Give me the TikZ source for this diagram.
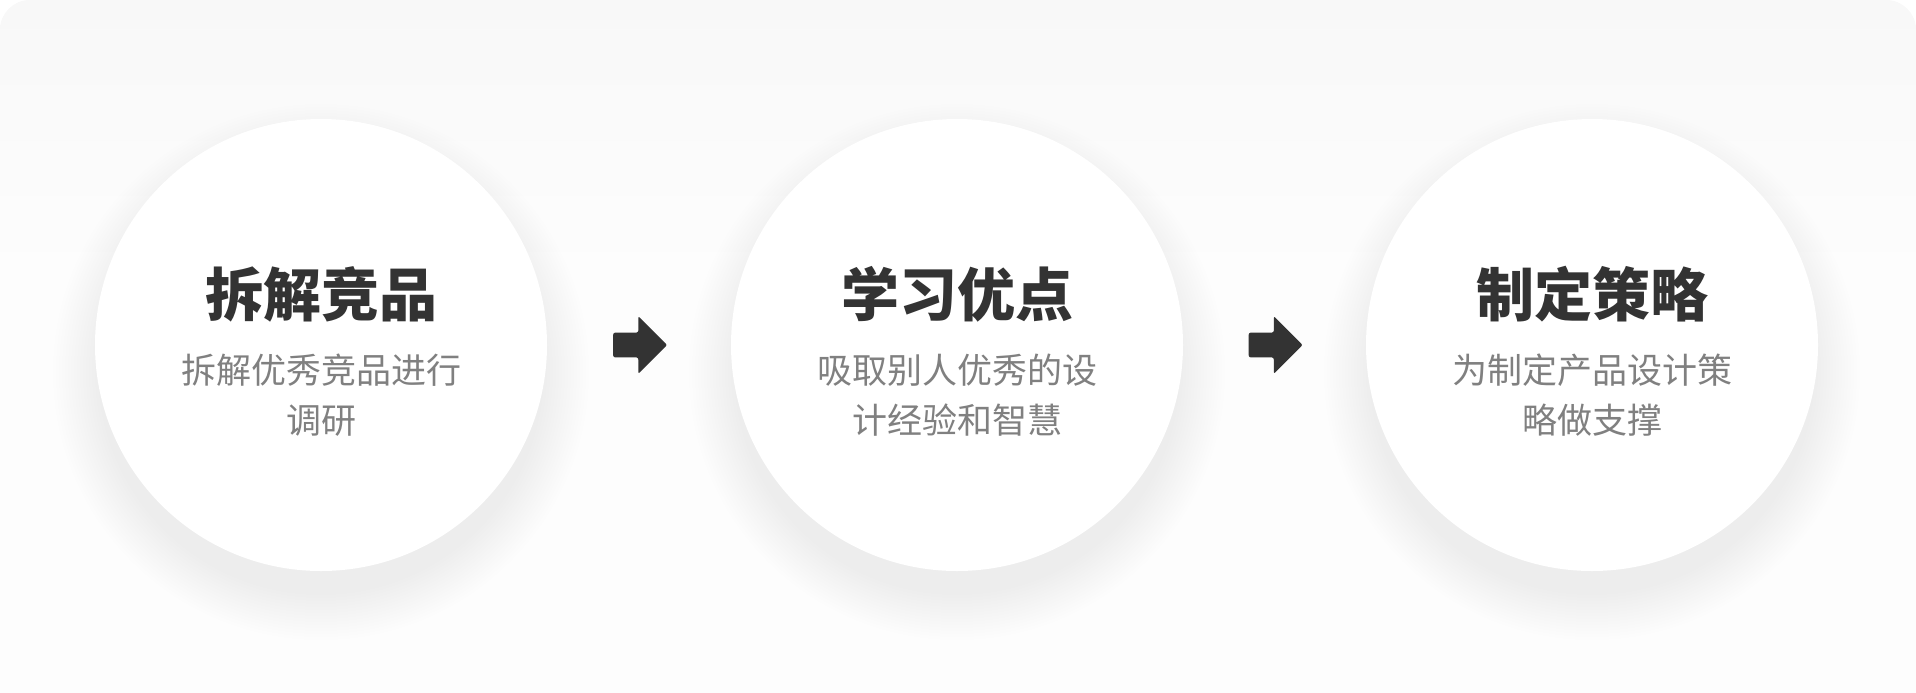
\documentclass[tikz,border=0pt]{standalone}
\usepackage{fontspec}
\newfontfamily\cjk{Noto Sans CJK SC}
\usetikzlibrary{shapes,arrows,calc}
\usetikzlibrary{positioning}
\definecolor{titlegray}{HTML}{333333}
\definecolor{descgray}{HTML}{808080}
\definecolor{cardtop}{HTML}{F8F8F8}
\definecolor{cardbottom}{HTML}{FDFDFD}
\tikzset{
  stage/.style={circle, fill=white, minimum size=226pt, inner sep=0pt},
  halo/.style={fill=black, opacity=0.004},
  stagetitle/.style={font=\cjk\bfseries\fontsize{29}{34}\selectfont, text=titlegray, inner sep=0pt},
  stagetext/.style={font=\cjk\fontsize{17.5}{25}\selectfont, text=descgray, align=center, inner sep=0pt},
  nextarrow/.style={single arrow, fill=titlegray, minimum height=27pt, minimum width=28.5pt,
    single arrow head extend=8.25pt, inner xsep=0pt, inner ysep=6pt, rounded corners=1pt, xshift=-2.5pt}
}

\begin{document}
\begin{tikzpicture}[x=0.5pt,y=-0.5pt]
            \useasboundingbox (0,0) rectangle (1916,692);
            % card
            \fill[cardbottom, rounded corners=15pt] (0,0) rectangle (1916,760);
            \shade[top color=cardtop, bottom color=cardbottom, rounded corners=15pt] (0,0) rectangle (1916,280);
            % soft shadows
            \foreach \cx in {321,957,1592}
              \foreach \i in {0,...,15}
                \fill[halo] (\cx,372) circle ({(268-3*\i)*0.5pt});
            \draw (321,345) node[stage] (c1) {};
            \draw (957,345) node[stage] (c2) {};
            \draw (1592,345) node[stage] (c3) {};
            \draw (321,294) node[stagetitle] (t1) {拆解竞品};
            \draw (957,294) node[stagetitle] (t2) {学习优点};
            \draw (1592,294) node[stagetitle] (t3) {制定策略};
            \draw (321,395) node[stagetext] (d1) {拆解优秀竞品进行\\调研};
            \draw (957,395) node[stagetext] (d2) {吸取别人优秀的设\\计经验和智慧};
            \draw (1592,395) node[stagetext] (d3) {为制定产品设计策\\略做支撑};
            \node[nextarrow] (a1) at ($(c1.east)!0.5!(c2.west)$) {};
            \node[nextarrow] (a2) at ($(c2.east)!0.5!(c3.west)$) {};
        \end{tikzpicture}
\end{document}
